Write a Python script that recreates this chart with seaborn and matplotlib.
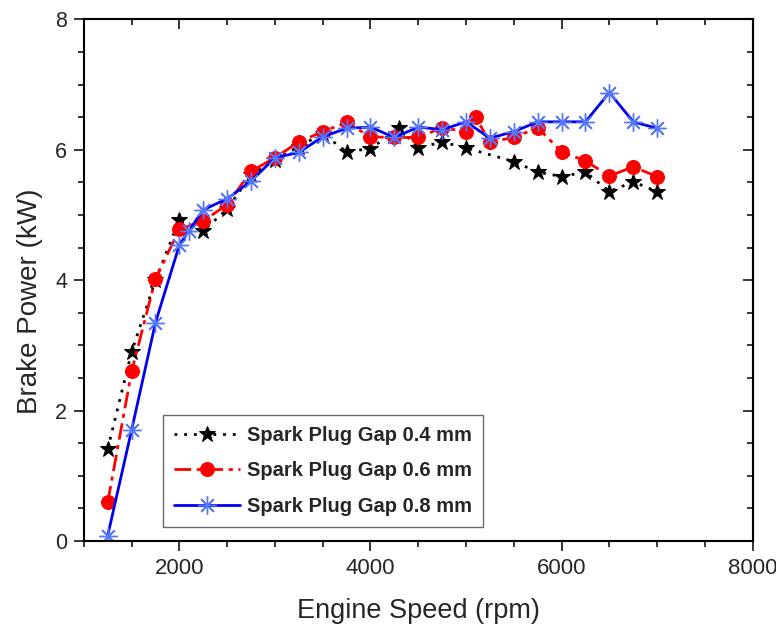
import matplotlib
matplotlib.use('Agg')
import matplotlib.pyplot as plt
from matplotlib.ticker import MultipleLocator
import seaborn as sns
import pandas as pd

# Dados
rpm_04 = [1250, 1500, 1750, 2000, 2250, 2500, 2750, 3000, 3250, 3500, 3750, 4000,
          4300, 4500, 4750, 5000, 5500, 5750, 6000, 6250, 6500, 6750, 7000]
power_04 = [1.41, 2.90, 4.00, 4.93, 4.76, 5.09, 5.62, 5.84, 6.05, 6.25, 5.97, 6.02,
            6.33, 6.03, 6.12, 6.03, 5.82, 5.66, 5.59, 5.66, 5.36, 5.51, 5.36]

rpm_06 = [1250, 1500, 1750, 2000, 2250, 2500, 2750, 3000, 3250, 3500, 3750, 4000,
          4250, 4500, 4750, 5000, 5100, 5250, 5500, 5750, 6000, 6250, 6500, 6750, 7000]
power_06 = [0.59, 2.60, 4.02, 4.78, 4.91, 5.16, 5.67, 5.88, 6.12, 6.28, 6.42, 6.20,
            6.19, 6.19, 6.34, 6.28, 6.50, 6.12, 6.19, 6.34, 5.97, 5.83, 5.60, 5.74, 5.59]

rpm_08 = [1250, 1500, 1750, 2000, 2100, 2250, 2500, 2750, 3000, 3250, 3500, 3750,
          4000, 4250, 4500, 4750, 5000, 5250, 5500, 5750, 6000, 6250, 6500, 6750, 7000]
power_08 = [0.08, 1.70, 3.35, 4.54, 4.76, 5.08, 5.25, 5.52, 5.88, 5.96, 6.20, 6.33,
            6.35, 6.19, 6.35, 6.31, 6.43, 6.18, 6.28, 6.43, 6.43, 6.43, 6.88, 6.43, 6.33]

labels = ['Spark Plug Gap 0.4 mm', 'Spark Plug Gap 0.6 mm', 'Spark Plug Gap 0.8 mm']

sns.set_style('ticks')
plt.rcParams['font.family'] = ['Liberation Sans', 'DejaVu Sans']

fig = plt.figure(figsize=(7.76, 6.29), dpi=100)
ax = fig.add_axes([0.108, 0.140, 0.862, 0.829])

df04 = pd.DataFrame({'rpm': rpm_04, 'power': power_04})
df06 = pd.DataFrame({'rpm': rpm_06, 'power': power_06})
df08 = pd.DataFrame({'rpm': rpm_08, 'power': power_08})

sns.lineplot(data=df04, x='rpm', y='power', ax=ax, sort=False, color='black',
             linestyle=(0, (1, 2.5)), linewidth=2, marker='*', markersize=12,
             markeredgecolor='black', label=labels[0])
sns.lineplot(data=df06, x='rpm', y='power', ax=ax, sort=False, color='#ff0000',
             linestyle=(0, (6, 2, 1.5, 2)), linewidth=2, marker='o', markersize=10,
             markeredgecolor='#ff0000', label=labels[1])
sns.lineplot(data=df08, x='rpm', y='power', ax=ax, sort=False, color='#0000ee',
             linestyle='-', linewidth=2, marker=(8, 2, 0), markersize=13,
             markeredgecolor='#5577ff', markeredgewidth=1.0, label=labels[2])

ax.set_xlim(1000, 8000)
ax.set_ylim(0, 8)
ax.xaxis.set_major_locator(MultipleLocator(2000))
ax.xaxis.set_minor_locator(MultipleLocator(500))
ax.yaxis.set_major_locator(MultipleLocator(2))
ax.yaxis.set_minor_locator(MultipleLocator(0.5))
ax.tick_params(which='major', direction='out', length=7, width=1.3, pad=5)
ax.tick_params(axis='x', which='major', labelsize=16)
ax.tick_params(axis='y', which='major', labelsize=15.5)
ax.tick_params(which='minor', direction='out', length=4, width=1.3)

# eixos de cima e da direita com ticks para dentro
top = ax.secondary_xaxis('top')
top.xaxis.set_major_locator(MultipleLocator(2000))
top.xaxis.set_minor_locator(MultipleLocator(500))
top.tick_params(which='major', direction='in', length=7, width=1.3, labeltop=False)
top.tick_params(which='minor', direction='in', length=4, width=1.3)
right = ax.secondary_yaxis('right')
right.yaxis.set_major_locator(MultipleLocator(2))
right.yaxis.set_minor_locator(MultipleLocator(0.5))
right.tick_params(which='major', direction='in', length=7, width=1.3, labelright=False)
right.tick_params(which='minor', direction='in', length=4, width=1.3)

for sp in ax.spines.values():
    sp.set_visible(True)
    sp.set_linewidth(1.5)
    sp.set_color('black')
for a in (top, right):
    for sp in a.spines.values():
        sp.set_linewidth(1.5)

ax.set_xlabel('Engine Speed (rpm)', fontsize=19.5, labelpad=14)
ax.set_ylabel('Brake Power (kW)', fontsize=20, labelpad=9)
ax.yaxis.label.set_y(0.46)

leg = ax.legend(loc='lower left', bbox_to_anchor=(0.118, 0.027), borderaxespad=0,
                fancybox=False, frameon=True, edgecolor='#444444',
                prop={'weight': 'bold', 'size': 14.5},
                handlelength=3.3, borderpad=0.55, labelspacing=0.82, handletextpad=0.35)
leg.get_frame().set_linewidth(1.0)

fig.savefig('out.png', dpi=100)
